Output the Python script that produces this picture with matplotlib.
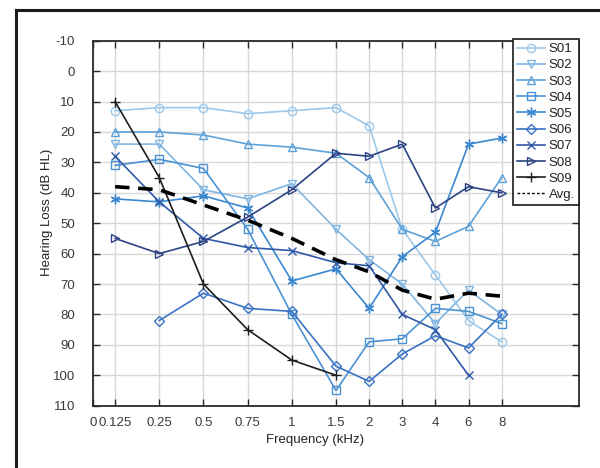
import numpy as np
import matplotlib
matplotlib.use("Agg")
import matplotlib.pyplot as plt
from matplotlib.lines import Line2D

plt.rcParams['font.family'] = ['Liberation Sans', 'DejaVu Sans']
plt.rcParams['axes.unicode_minus'] = False

# ---- data ----
freq_labels = ['0', '0.125', '0.25', '0.5', '0.75', '1', '1.5', '2', '3', '4', '6', '8']
# axis layout: position of each frequency tick on the (piecewise) x axis
freq_axis_pos = [0, 0.5, 1.5, 2.5, 3.5, 4.5, 5.5, 6.25, 7.0, 7.75, 8.5, 9.25]

nan = np.nan
S01 = [13, 12, 12, 14, 13, 12, 18, 52, 67, 82, 89]
S02 = [24, 24, 39, 42, 37, 52, 62, 70, 83, 72, 80]
S03 = [20, 20, 21, 24, 25, 27, 35, 52, 56, 51, 35]
S04 = [31, 29, 32, 52, 80, 105, 89, 88, 78, 79, 83]
S05 = [42, 43, 41, 45, 69, 65, 78, 61, 53, 24, 22]
S06 = [nan, 82, 73, 78, 79, 97, 102, 93, 87, 91, 80]
S07 = [28, 43, 55, 58, 59, 63, 64, 80, 85, 100, nan]
S08 = [55, 60, 56, 48, 39, 27, 28, 24, 45, 38, 40]
S09 = [10, 35, 70, 85, 95, 100, nan, nan, nan, nan, nan]
Avg = [38, 39, 44, 49, 55, 62, 66, 72, 75, 73, 74]

series_names = ['S01', 'S02', 'S03', 'S04', 'S05', 'S06', 'S07', 'S08', 'S09']
series_vals = [S01, S02, S03, S04, S05, S06, S07, S08, S09]
colors = ['#9cc8ea', '#80b6e2', '#5ea2da', '#4a92d4', '#3b87d0',
          '#3a73c4', '#3059a8', '#2c4384', '#1e1e1e']
markers = ['o', 'v', '^', 's', (6, 2, 0), 'D', 'x', '>', '+']
msizes = [6, 6, 6, 5.5, 7, 5.5, 6, 6, 7]

# ---- figure ----
W, H = 600, 468
fig = plt.figure(figsize=(W / 100, H / 100), dpi=100)
ax = fig.add_axes([93 / W, 1 - 405.7 / H, (579 - 93) / W, 365 / H])

xpos = np.array(freq_axis_pos[1:])
handles = []
for name, vals, c, m, ms in zip(series_names, series_vals, colors, markers, msizes):
    ln, = ax.plot(xpos, vals, color=c, marker=m, markersize=ms,
                  markerfacecolor='none', markeredgecolor=c, markeredgewidth=1.0,
                  lw=1.2, label=name)
    handles.append(ln)

ax.plot(xpos, Avg, color='black', lw=2.6, dashes=(4, 2.4), solid_capstyle='butt')
handles.append(Line2D([], [], color='black', lw=1.0, dashes=(2, 1.5)))

ax.set_xlim(0, 11)
ax.set_ylim(110, -10)
ax.set_xticks(freq_axis_pos)
ax.set_xticklabels(freq_labels)
ax.set_yticks(np.arange(-10, 111, 10))

ax.grid(True, color='#d8d8d8', lw=1.0)
ax.set_axisbelow(True)
for s in ax.spines.values():
    s.set_color('#2a2a2a')
    s.set_linewidth(1.3)

ax.tick_params(axis='both', direction='in', length=5, width=1.0, colors='#2a2a2a',
               labelcolor='#3a3a3a', labelsize=9.5, top=True, right=True)
ax.tick_params(axis='y', pad=13)
ax.tick_params(axis='x', pad=8)

leg = ax.legend(handles, series_names + ['Avg.'], loc='upper right',
                bbox_to_anchor=(579 / W, 1 - 39 / H), bbox_transform=fig.transFigure,
                borderaxespad=0, fancybox=False, framealpha=1, edgecolor='#1a1a1a',
                fontsize=9.5, handlelength=2.1, handletextpad=0.3, labelspacing=0.3,
                borderpad=0.3)
leg.get_frame().set_linewidth(1.2)
for t in leg.get_texts():
    t.set_color('#222222')

fig.text(315 / W, 1 - 440 / H, 'Frequency (kHz)', ha='center', va='center',
         fontsize=9.5, color='#222222')
fig.text(47 / W, 1 - 212 / H, 'Hearing Loss (dB HL)', ha='center', va='center',
         rotation=90, fontsize=9.5, color='#222222')

# outer frame (runs off right/bottom edges)
fig.add_artist(Line2D([16 / W, 1.05], [1 - 10 / H, 1 - 10 / H], transform=fig.transFigure,
                      color='#1a1a1a', lw=2.2))
fig.add_artist(Line2D([16 / W, 16 / W], [1 - 10 / H, -0.05], transform=fig.transFigure,
                      color='#1a1a1a', lw=2.2))

fig.savefig('out.png', dpi=100)
